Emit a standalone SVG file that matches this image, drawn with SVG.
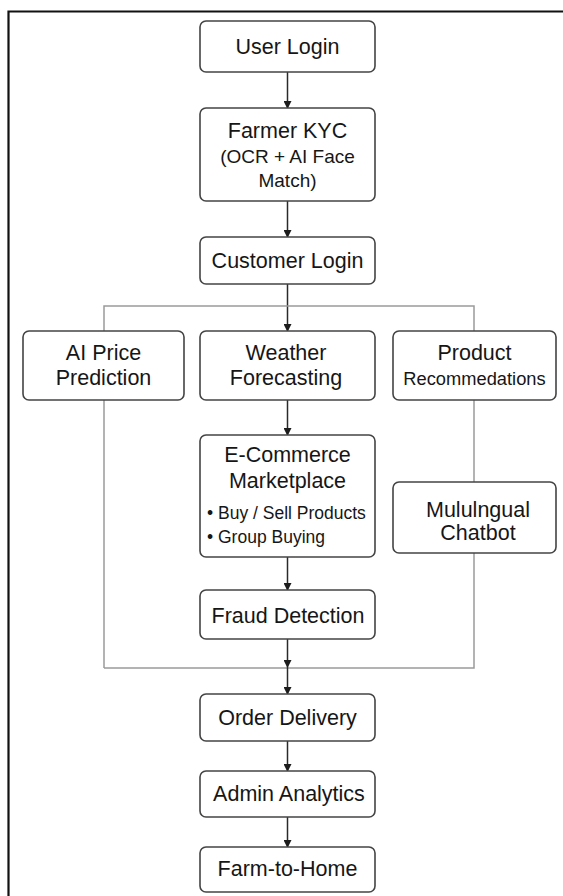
<svg xmlns="http://www.w3.org/2000/svg" width="563" height="896" viewBox="0 0 563 896">
<defs>
<style>
.box{fill:#fff;stroke:#444;stroke-width:1.6}
.t{font-family:"Liberation Sans",Arial,Helvetica,sans-serif;font-size:21.5px;fill:#161616;text-anchor:middle}
.s{font-size:19px}
.r{font-size:18.3px}
.b{font-family:"Liberation Sans",Arial,Helvetica,sans-serif;font-size:17.5px;fill:#161616}
.arr{stroke:#2a2a2a;stroke-width:1.5;fill:none;marker-end:url(#ah)}
.gray{stroke:#9a9a9a;stroke-width:1.5;fill:none}
</style>
<marker id="ah" markerUnits="userSpaceOnUse" markerWidth="8" markerHeight="8" refX="7" refY="4" orient="auto">
<path d="M0,0 L8,4 L0,8 z" fill="#1c1c1c"/>
</marker>
</defs>
<rect width="563" height="896" fill="#fff"/>
<path d="M8.5,896 V11.5 H563" fill="none" stroke="#111" stroke-width="2.2"/>

<g id="connectors">
<line class="arr" x1="287.5" y1="72" x2="287.5" y2="108"/>
<line class="arr" x1="287.5" y1="201" x2="287.5" y2="237"/>
<line class="arr" x1="287.5" y1="284" x2="287.5" y2="331"/>
<path class="gray" d="M104,331 V306 H474 V331"/>
<line class="gray" x1="104" y1="400" x2="104" y2="668"/>
<line class="gray" x1="474" y1="400" x2="474" y2="482"/>
<path class="gray" d="M474,553 V668 H104"/>
<line class="arr" x1="287.5" y1="400" x2="287.5" y2="435"/>
<line class="arr" x1="287.5" y1="557" x2="287.5" y2="590"/>
<line class="arr" x1="287.5" y1="639" x2="287.5" y2="667"/>
<line class="arr" x1="287.5" y1="667" x2="287.5" y2="694"/>
<line class="arr" x1="287.5" y1="741" x2="287.5" y2="771"/>
<line class="arr" x1="287.5" y1="817" x2="287.5" y2="847"/>
</g>

<g id="user-login">
<rect class="box" x="200" y="21" width="175" height="51" rx="6"/>
<text class="t" x="287.5" y="54">User Login</text>
</g>
<g id="farmer-kyc">
<rect class="box" x="200" y="108" width="175" height="93" rx="6"/>
<text class="t" x="287.5" y="137.5">Farmer KYC</text>
<text class="t s" x="287.5" y="163">(OCR + AI Face</text>
<text class="t s" x="287.5" y="187">Match)</text>
</g>
<g id="customer-login">
<rect class="box" x="200" y="237" width="175" height="47" rx="6"/>
<text class="t" x="287.5" y="268">Customer Login</text>
</g>
<g id="ai-price-prediction">
<rect class="box" x="23" y="331" width="161" height="69" rx="6"/>
<text class="t" x="103.5" y="360">AI Price</text>
<text class="t" x="103.5" y="385">Prediction</text>
</g>
<g id="weather-forecasting">
<rect class="box" x="200" y="331" width="175" height="69" rx="6"/>
<text class="t" x="286" y="360">Weather</text>
<text class="t" x="286" y="385">Forecasting</text>
</g>
<g id="product-recommendations">
<rect class="box" x="393" y="331" width="163" height="69" rx="6"/>
<text class="t" x="474.5" y="360">Product</text>
<text class="t r" x="474.5" y="385">Recommedations</text>
</g>
<g id="ecommerce-marketplace">
<rect class="box" x="200" y="435" width="175" height="122" rx="6"/>
<text class="t" x="287.5" y="462">E-Commerce</text>
<text class="t" x="287.5" y="488">Marketplace</text>
<text class="b" x="207" y="519">• Buy / Sell Products</text>
<text class="b" x="207" y="543">• Group Buying</text>
</g>
<g id="multilingual-chatbot">
<rect class="box" x="393" y="482" width="163" height="71" rx="6"/>
<text class="t" x="478" y="517">Mululngual</text>
<text class="t" x="478" y="540">Chatbot</text>
</g>
<g id="fraud-detection">
<rect class="box" x="200" y="590" width="175" height="49" rx="6"/>
<text class="t" x="288" y="623">Fraud Detection</text>
</g>
<g id="order-delivery">
<rect class="box" x="200" y="694" width="175" height="47" rx="6"/>
<text class="t" x="287.5" y="725">Order Delivery</text>
</g>
<g id="admin-analytics">
<rect class="box" x="200" y="771" width="175" height="46" rx="6"/>
<text class="t" x="289" y="801">Admin Analytics</text>
</g>
<g id="farm-to-home">
<rect class="box" x="200" y="847" width="175" height="45" rx="6"/>
<text class="t" x="287.5" y="876">Farm-to-Home</text>
</g>
</svg>
